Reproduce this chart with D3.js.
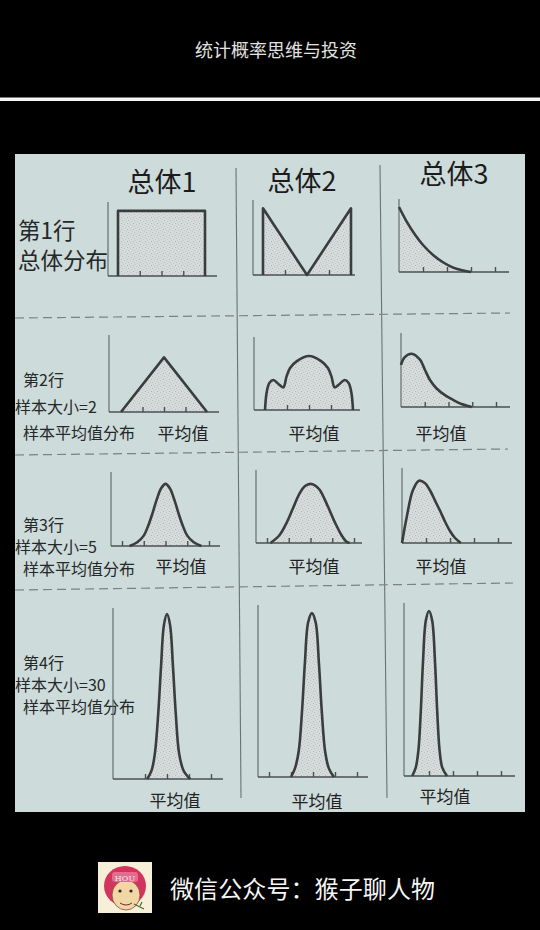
<!DOCTYPE html>
<html><head><meta charset="utf-8">
<script src="https://cdn.jsdelivr.net/npm/d3@7"></script>
<style>html,body{margin:0;padding:0;background:#000;}svg{display:block}</style>
</head><body><svg id="c" width="540" height="930"></svg>
<script>
// ---------- data ----------
const pageTitle = "统计概率思维与投资";
const footerText = "微信公众号：猴子聊人物";
const colTitles = ["总体1", "总体2", "总体3"];
const rowLabels = [
  ["第1行", "总体分布"],
  ["第2行", "样本大小=2", "样本平均值分布"],
  ["第3行", "样本大小=5", "样本平均值分布"],
  ["第4行", "样本大小=30", "样本平均值分布"]
];
const xLabel = "平均值";

// density curves: [x in tick units, relative density]
const r1c1 = [[0,0],[0,0.88],[4,0.88],[4,0]];
const r1c2 = [[0,0],[0,0.89],[2,0],[4,0.89],[4,0]];
const r1c3 = [[0,0.89],[0.32,0.69],[0.67,0.51],[1,0.37],[1.43,0.23],[1.85,0.13],[2.26,0.06],[2.68,0.02],[3,0]];
const r2c1 = [[0,0],[2,0.71],[4,0]];
const r2c2 = [[0,0],[0.08,0.25],[0.2,0.37],[0.38,0.41],[0.6,0.36],[0.83,0.31],[0.98,0.46],[1.14,0.575],[1.45,0.67],[2,0.74],[2.55,0.67],[2.86,0.575],[3.02,0.46],[3.17,0.31],[3.4,0.36],[3.62,0.41],[3.8,0.37],[3.92,0.25],[4,0]];
const r2c3 = [[0,0.57],[0.15,0.67],[0.45,0.72],[0.8,0.64],[1.01,0.5],[1.22,0.365],[1.5,0.25],[1.85,0.16],[2.2,0.095],[2.55,0.04],[2.98,0]];
const r3c1 = [[0.35,0],[0.7,0.05],[1.0,0.14],[1.2,0.27],[1.4,0.44],[1.6,0.63],[1.8,0.78],[2,0.84],[2.2,0.78],[2.4,0.63],[2.6,0.44],[2.8,0.27],[3.0,0.14],[3.3,0.05],[3.65,0]];
const r3c2 = [[0.16,0],[0.58,0.11],[0.89,0.27],[1.2,0.48],[1.5,0.68],[1.75,0.78],[2,0.81],[2.2,0.79],[2.42,0.73],[2.8,0.5],[3.11,0.29],[3.42,0.11],[3.65,0.02],[3.8,0]];
const r3c3 = [[0,0],[0.2,0.35],[0.45,0.7],[0.71,0.83],[0.95,0.8],[1.17,0.7],[1.4,0.55],[1.6,0.42],[1.8,0.28],[2,0.16],[2.2,0.07],[2.45,0]];
const r4c1 = [[1.1,0],[1.3,0.05],[1.45,0.15],[1.6,0.38],[1.73,0.66],[1.86,0.9],[2,0.965],[2.14,0.9],[2.27,0.66],[2.4,0.38],[2.55,0.15],[2.75,0.05],[3.05,0]];
const r4c2 = [[1.0,0],[1.18,0.05],[1.35,0.15],[1.5,0.38],[1.63,0.66],[1.78,0.9],[1.95,0.953],[2.12,0.9],[2.27,0.66],[2.4,0.38],[2.55,0.15],[2.72,0.05],[2.95,0]];
const r4c3 = [[0.3,0],[0.45,0.05],[0.56,0.15],[0.66,0.38],[0.75,0.66],[0.87,0.9],[1,0.954],[1.13,0.9],[1.25,0.66],[1.34,0.38],[1.44,0.15],[1.55,0.05],[1.75,0]];

const ticksR1 = [[1,2,3],[1,3],[1,2,3,4]];
const ticksR2 = [[1,2,3],[1,2,3],[1,2,3,4]];
const ticksR3 = [[0,1,2,3,4],[0,1,2,3,4],[1,2,3,4]];
const ticksR4 = [[1,2,3,4],[0,1,2,3,4],[1,2,3,4]];

// ---------- layout ----------
const curves = [[r1c1,r1c2,r1c3],[r2c1,r2c2,r2c3],[r3c1,r3c2,r3c3],[r4c1,r4c2,r4c3]];
const ticks = [ticksR1, ticksR2, ticksR3, ticksR4];
const smooth = [[false,false,true],[false,true,true],[true,true,true],[true,true,true]];
// ax: y-axis x, ar: x-axis right end, yb: baseline, yt: y-axis top, p0/p4: pixel of u=0 / u=4
const frames = [
  [{ax:108,ar:217,yb:276,yt:202,p0:118,p4:205},{ax:253,ar:355,yb:275,yt:200,p0:263,p4:351},{ax:399,ar:509,yb:272,yt:199,p0:399,p4:495}],
  [{ax:109,ar:219,yb:412,yt:335,p0:121,p4:207},{ax:254,ar:360,yb:410,yt:337,p0:265,p4:353},{ax:401,ar:510,yb:407,yt:333,p0:401,p4:496}],
  [{ax:111,ar:220,yb:546,yt:472,p0:122,p4:209},{ax:256,ar:362,yb:543,yt:470,p0:267,p4:354},{ax:402,ar:512,yb:543,yt:468,p0:402,p4:498}],
  [{ax:113,ar:223,yb:779,yt:608,p0:123,p4:211},{ax:258,ar:368,yb:777,yt:605,p0:269,p4:357},{ax:404,ar:515,yb:776,yt:603,p0:405,p4:501}]
];
const xLabelPos = [null,
  [[183,440],[314,440],[441,440]],
  [[181,573],[314,573],[441,573]],
  [[175,807],[317,808],[445,803]]];
const FONT = "'Noto Sans CJK SC','Noto Sans',sans-serif";

const svg = d3.select("#c");
const defs = svg.append("defs");
const pat = defs.append("pattern").attr("id","stip").attr("patternUnits","userSpaceOnUse")
  .attr("width",6).attr("height",6);
pat.append("rect").attr("width",6).attr("height",6).attr("fill","#d5dada");
[[1,1,0.45],[4,2,0.3],[2,4,0.35],[5,5,0.25],[0,3,0.2],[3,0,0.2]].forEach(d=>{
  pat.append("rect").attr("x",d[0]).attr("y",d[1]).attr("width",0.9).attr("height",0.9)
    .attr("fill","#707878").attr("opacity",d[2]);
});

// header
svg.append("text").attr("x",276).attr("y",57).attr("text-anchor","middle")
  .attr("font-family",FONT).attr("font-size",18).attr("fill","#e2e2e2").text(pageTitle);
svg.append("rect").attr("x",0).attr("y",97.5).attr("width",540).attr("height",3.5).attr("fill","#f4f4f4");

// main panel
svg.append("rect").attr("x",15).attr("y",154).attr("width",510).attr("height",658).attr("fill","#cddbdb");

// separators
[[236,168,241,798],[380,165,387,798]].forEach(s=>{
  svg.append("line").attr("x1",s[0]).attr("y1",s[1]).attr("x2",s[2]).attr("y2",s[3])
    .attr("stroke","#6c7272").attr("stroke-width",1.1);
});
[[15,318,510,313],[15,455,508,449],[15,590,513,583]].forEach(s=>{
  svg.append("line").attr("x1",s[0]).attr("y1",s[1]).attr("x2",s[2]).attr("y2",s[3])
    .attr("stroke","#7a8282").attr("stroke-width",1.2).attr("stroke-dasharray","9,5");
});

// column titles
[[162,192],[302,191],[454,184]].forEach((p,i)=>{
  svg.append("text").attr("x",p[0]).attr("y",p[1]).attr("text-anchor","middle")
    .attr("font-family",FONT).attr("font-size",27).attr("fill","#1c1c1c").text(colTitles[i]);
});

// row labels (one multi-line text per row)
const rowLabelPos = [
  [[18,239],[18,269]],
  [[23,386],[15,413],[23,439]],
  [[23,531],[15,553],[23,575]],
  [[23,669],[15,691],[23,713]]
];
rowLabels.forEach((lines,r)=>{
  const t = svg.append("text").attr("font-family",FONT)
    .attr("font-size", r===0 ? 22.5 : 16).attr("fill","#252828");
  lines.forEach((s,k)=>{
    t.append("tspan").attr("x",rowLabelPos[r][k][0]).attr("y",rowLabelPos[r][k][1]).text(s);
  });
});

// panels
frames.forEach((row,r)=>{
  row.forEach((f,c)=>{
    const g = svg.append("g");
    const x = d3.scaleLinear().domain([0,4]).range([f.p0,f.p4]);
    const y = d3.scaleLinear().domain([0,1]).range([f.yb,f.yt]);
    const data = curves[r][c];
    const cv = smooth[r][c] ? d3.curveCatmullRom.alpha(0.5) : d3.curveLinear;
    const area = d3.area().x(d=>x(d[0])).y0(y(0)).y1(d=>y(d[1])).curve(cv);
    g.append("path").datum(data).attr("d",area).attr("fill","url(#stip)");
    g.append("line").attr("x1",f.ax).attr("y1",f.yt).attr("x2",f.ax).attr("y2",f.yb)
      .attr("stroke","#5d6363").attr("stroke-width",1.1);
    g.append("line").attr("x1",f.ax).attr("y1",f.yb).attr("x2",f.ar).attr("y2",f.yb)
      .attr("stroke","#4a5050").attr("stroke-width",1.4);
    const axis = d3.axisBottom(x).tickValues(ticks[r][c]).tickSize(-5).tickFormat("");
    const ag = g.append("g").attr("transform",`translate(0,${f.yb})`).call(axis);
    ag.select(".domain").remove();
    ag.selectAll(".tick line").attr("stroke","#4a5050").attr("stroke-width",1.4);
    const line = d3.line().x(d=>x(d[0])).y(d=>y(d[1])).curve(cv);
    g.append("path").datum(data).attr("d",line).attr("fill","none")
      .attr("stroke","#3a3d3d").attr("stroke-width",2.6).attr("stroke-linejoin","round");
    if (xLabelPos[r]) {
      g.append("text").attr("x",xLabelPos[r][c][0]).attr("y",xLabelPos[r][c][1])
        .attr("text-anchor","middle").attr("font-family",FONT).attr("font-size",17)
        .attr("fill","#222").text(xLabel);
    }
  });
});

// footer logo
const lg = svg.append("g").attr("transform","translate(98,862)");
lg.append("rect").attr("width",54).attr("height",51).attr("fill","#f6f0d8");
lg.append("ellipse").attr("cx",27).attr("cy",24).attr("rx",21).attr("ry",20).attr("fill","#d2345e");
lg.append("ellipse").attr("cx",28).attr("cy",33).attr("rx",14).attr("ry",15).attr("fill","#f1d6a6")
  .attr("stroke","#8a4636").attr("stroke-width",0.8);
lg.append("rect").attr("x",14).attr("y",10).attr("width",26).attr("height",10).attr("rx",3).attr("fill","#e86a8c");
lg.append("text").attr("x",27).attr("y",18.5).attr("text-anchor","middle").attr("font-family","'DejaVu Serif',serif")
  .attr("font-size",8).attr("fill","#fbe8ec").text("HOU");
lg.append("circle").attr("cx",22).attr("cy",29).attr("r",1.6).attr("fill","#3a2020");
lg.append("circle").attr("cx",33).attr("cy",29).attr("r",1.6).attr("fill","#3a2020");
lg.append("path").attr("d","M22,41 Q28,45 34,41").attr("fill","none").attr("stroke","#6a3030").attr("stroke-width",1);
lg.append("path").attr("d","M36,42 L46,47 M42,44 L44,40").attr("stroke","#4a6a30").attr("stroke-width",1.2);

svg.append("text").attr("x",170).attr("y",898).attr("font-family",FONT).attr("font-size",24)
  .attr("fill","#f6f6f6").attr("textLength",265).text(footerText);
</script></body></html>
